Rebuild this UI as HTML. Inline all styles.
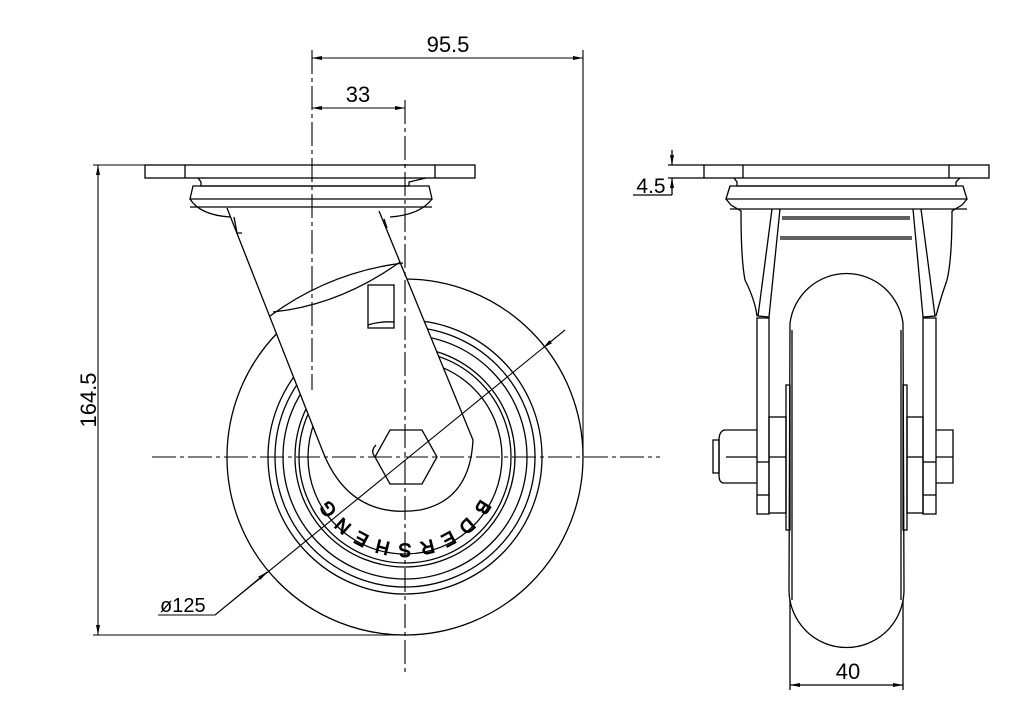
<!DOCTYPE html>
<html><head><meta charset="utf-8"><style>
html,body{margin:0;padding:0;background:#fff;}
svg{display:block}
text{font-family:"Liberation Sans",sans-serif;fill:#000;}
</style></head><body>
<svg width="1030" height="725" viewBox="0 0 1030 725" xmlns="http://www.w3.org/2000/svg">
<defs>
<marker id="a" viewBox="0 0 10 4" refX="10" refY="2" markerWidth="10" markerHeight="4" orient="auto-start-reverse" markerUnits="userSpaceOnUse"><path d="M0,0 L10,2 L0,4z" fill="#000"/></marker>
</defs>
<g fill="none" stroke="#000" stroke-width="1.3">
<circle cx="405" cy="457" r="178"/>
<circle cx="405" cy="457" r="137"/>
<circle cx="405" cy="457" r="130"/>
<circle cx="405" cy="457" r="122"/>
<circle cx="405" cy="457" r="110"/>
<circle cx="405" cy="457" r="106"/>
<circle cx="405" cy="457" r="97"/>
<rect x="145" y="165" width="330" height="13"/>
<line x1="185" y1="165" x2="185" y2="178"/><line x1="435" y1="165" x2="435" y2="178"/>
<path d="M198,178 L201,182 L201,186 L409,186 L409,182 L426,178"/>
<path d="M193,186 L190,199 L432,199 L429,186 Z"/>
<line x1="190" y1="207" x2="432" y2="207"/>
<path d="M190,199 Q200,215 230,217"/>
<path d="M432,199 Q420,215 390,217"/>
<path d="M227,208 L323,452 Q350,520 420,510 Q470,500 473,440 L379,211" fill="#fff"/>
<path d="M234,217 L237,233 L242,233"/>
<path d="M384,219 L387,228"/>
<path d="M270,316 Q330,272 403,263"/>
<path d="M273,312 Q340,305 400,262"/>
<rect x="368" y="285" width="26" height="43"/>
<path d="M368,325 Q380,321 394,322"/>
<path d="M390,430 L422,430 L437,457 L422,484 L390,484 L375,457 Z" fill="#fff"/>
<path d="M375,457 Q370,451 376,445"/>
</g>
<g font-size="19" fill="#fff" stroke="#000" stroke-width="0.9" text-anchor="middle" dominant-baseline="central">
<text transform="translate(405,457) rotate(56) translate(0,92) rotate(180)">G</text>
<text transform="translate(405,457) rotate(42) translate(0,92) rotate(180)">N</text>
<text transform="translate(405,457) rotate(28) translate(0,92) rotate(180)">E</text>
<text transform="translate(405,457) rotate(14) translate(0,92) rotate(180)">H</text>
<text transform="translate(405,457) rotate(0) translate(0,92) rotate(180)">S</text>
<text transform="translate(405,457) rotate(-14) translate(0,92) rotate(180)">R</text>
<text transform="translate(405,457) rotate(-28) translate(0,92) rotate(180)">E</text>
<text transform="translate(405,457) rotate(-42) translate(0,92) rotate(180)">D</text>
<text transform="translate(405,457) rotate(-57) translate(0,92) rotate(180)">B</text>
</g>
<g fill="none" stroke="#000" stroke-width="1.1">
<line x1="152" y1="457" x2="660" y2="457" stroke-dasharray="24,4,4,4"/>
<line x1="405" y1="100" x2="405" y2="675" stroke-dasharray="24,4,4,4"/>
<line x1="312" y1="50" x2="312" y2="390" stroke-dasharray="24,4,4,4"/>
<line x1="583" y1="50" x2="583" y2="457"/>
<line x1="312" y1="58" x2="583" y2="58" marker-start="url(#a)" marker-end="url(#a)"/>
<line x1="312" y1="108" x2="405" y2="108" marker-start="url(#a)" marker-end="url(#a)"/>
<line x1="93" y1="165" x2="145" y2="165"/>
<line x1="93" y1="635" x2="405" y2="635"/>
<line x1="98" y1="165" x2="98" y2="635" marker-start="url(#a)" marker-end="url(#a)"/>
<path d="M158,615 L215,615 L565,330"/>
<line x1="215" y1="615" x2="267" y2="572" marker-end="url(#a)"/>
<line x1="565" y1="330" x2="543" y2="348" marker-end="url(#a)"/>
</g>
<g font-size="22">
<text x="448" y="52" text-anchor="middle">95.5</text>
<text x="358" y="102" text-anchor="middle">33</text>
<text x="0" y="0" transform="translate(96,400) rotate(-90)" text-anchor="middle">164.5</text>
<text x="160" y="612" font-size="20">ø125</text>
<text x="651" y="193" text-anchor="middle" font-size="21">4.5</text>
<text x="848" y="679" text-anchor="middle">40</text>
</g>
<g fill="none" stroke="#000" stroke-width="1.3">
<rect x="704" y="165" width="285" height="13"/>
<line x1="743" y1="165" x2="743" y2="178"/><line x1="949" y1="165" x2="949" y2="178"/>
<path d="M734,178 L737,182 L737,186 L956,186 L956,182 L960,178"/>
<path d="M730,186 L726,199 L967,199 L963,186 Z"/>
<line x1="730" y1="209" x2="967" y2="209"/>
<path d="M726,199 L731,205 L741,211 Q741,260 745,280 Q755,300 757,316"/>
<path d="M967,199 L962,205 L952,211 Q952,260 947,280 Q940,300 936,316"/>
<path d="M772,209 L758,316 L769,317 L780,209"/>
<path d="M921,209 L935,316 L923,317 L913,209"/>
<line x1="782" y1="217" x2="910" y2="217"/><line x1="782" y1="219" x2="910" y2="219"/>
<line x1="780" y1="237" x2="912" y2="237"/><line x1="780" y1="239" x2="912" y2="239"/>
<rect x="757" y="318" width="12" height="196"/>
<rect x="923" y="318" width="13" height="196"/>
<line x1="757" y1="462" x2="769" y2="462"/><line x1="923" y1="462" x2="936" y2="462"/>
<line x1="757" y1="495" x2="769" y2="495"/><line x1="923" y1="495" x2="936" y2="495"/>
<path d="M790,323 A57,57 0 0 1 903,323 L904,590 A57,57 0 0 1 789,590 Z" fill="#fff"/>
<line x1="792" y1="330" x2="792" y2="600"/><line x1="901" y1="330" x2="901" y2="600"/>
<rect x="786" y="385" width="4" height="145"/>
<rect x="903" y="385" width="4" height="145"/>
<rect x="769" y="417" width="17" height="96"/>
<rect x="907" y="417" width="16" height="96"/>
<line x1="769" y1="457" x2="786" y2="457"/><line x1="907" y1="457" x2="923" y2="457"/>
<path d="M757,430 L724,430 Q719,432 719,440 L719,475 Q719,483 724,483 L757,483"/>
<rect x="713" y="440" width="6" height="33"/>
<line x1="726" y1="457" x2="757" y2="457"/>
<path d="M936,430 L953,430 L953,483 L936,483"/>
<line x1="936" y1="457" x2="953" y2="457"/>
<line x1="790" y1="600" x2="790" y2="690"/>
<line x1="903" y1="600" x2="903" y2="690"/>
<line x1="790" y1="685" x2="903" y2="685" marker-start="url(#a)" marker-end="url(#a)"/>
<line x1="672" y1="150" x2="672" y2="165" marker-end="url(#a)"/>
<line x1="672" y1="195" x2="672" y2="178" marker-end="url(#a)"/>
<line x1="668" y1="165" x2="704" y2="165"/>
<line x1="668" y1="178" x2="704" y2="178"/>
<line x1="633" y1="195" x2="672" y2="195"/>
</g>
</svg>
</body></html>
